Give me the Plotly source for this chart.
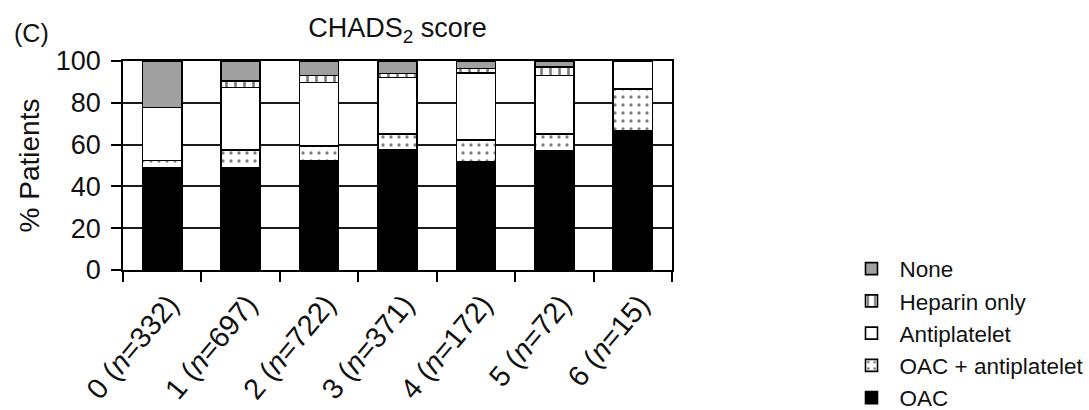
import plotly.graph_objects as go

# CHADS2 score groups (x tick labels)
categories = ["0 (<i>n</i>=332)", "1 (<i>n</i>=697)", "2 (<i>n</i>=722)", "3 (<i>n</i>=371)",
              "4 (<i>n</i>=172)", "5 (<i>n</i>=72)", "6 (<i>n</i>=15)"]

# % of patients per treatment within each score group
oac = [48.8, 48.9, 52.4, 57.7, 51.7, 56.9, 66.7]
oac_antiplatelet = [3.6, 8.6, 6.8, 7.5, 10.5, 8.3, 20.0]
antiplatelet = [25.3, 29.8, 30.5, 27.0, 32.0, 27.8, 13.3]
heparin_only = [0.0, 3.2, 3.3, 1.9, 2.3, 4.2, 0.0]
none = [22.3, 9.5, 7.1, 5.9, 3.5, 2.8, 0.0]

FONT = "Liberation Sans, Arial, Helvetica, sans-serif"
INK = "#111111"

series = [
    ("OAC", oac, dict(color="black")),
    ("OAC + antiplatelet", oac_antiplatelet,
     dict(color="white", pattern=dict(shape=".", fgcolor="black", bgcolor="white",
                                      size=8, solidity=0.13, fillmode="overlay"))),
    ("Antiplatelet", antiplatelet, dict(color="white")),
    ("Heparin only", heparin_only,
     dict(color="white", pattern=dict(shape="|", fgcolor="black", bgcolor="white",
                                      size=9, solidity=0.3, fillmode="overlay"))),
    ("None", none, dict(color="#a0a0a0")),
]

fig = go.Figure()
for name, vals, mk in series:
    mk = dict(mk)
    mk["line"] = dict(color="black", width=1.6)
    fig.add_trace(go.Bar(name=name, x=categories, y=vals, marker=mk))

fig.update_layout(
    barmode="stack",
    bargap=0.5,
    width=1089,
    height=410,
    margin=dict(l=123, r=417, t=61, b=140, autoexpand=False),
    paper_bgcolor="white",
    plot_bgcolor="white",
    font=dict(family=FONT, color=INK, size=24),
    title=dict(text="CHADS<sub>2</sub> score", x=0.5, xref="paper", xanchor="center",
               y=1 - 28 / 410, yref="container", yanchor="middle",
               font=dict(family=FONT, size=27, color=INK)),
    legend=dict(traceorder="reversed", xref="container", yref="container",
                x=843.5 / 1089, xanchor="left", y=1 - 247.5 / 410, yanchor="top",
                font=dict(family=FONT, size=22.5, color=INK), itemwidth=46,
                bgcolor="rgba(0,0,0,0)"),
    annotations=[dict(text="(C)", xref="paper", yref="paper", x=-0.203, y=1.1316,
                      xanchor="left", yanchor="middle", showarrow=False,
                      font=dict(family=FONT, size=25, color=INK))],
)

fig.update_xaxes(
    type="category", tickson="boundaries", ticks="outside", ticklen=10, tickwidth=1.6,
    tickcolor="black", showline=True, linecolor="black", linewidth=1.6, mirror=True,
    showgrid=False, tickangle=-50, automargin=False, ticklabelshift=7, ticklabelstandoff=4,
    tickfont=dict(family=FONT, size=29, color=INK),
)
fig.update_yaxes(
    range=[0, 100], tickvals=[0, 20, 40, 60, 80, 100], ticks="outside", ticklen=10,
    tickwidth=1.6, tickcolor="black", showline=True, linecolor="black", linewidth=1.6,
    mirror=True, showgrid=True, gridcolor="#1a1a1a", gridwidth=1.6, zeroline=False,
    automargin=False, ticklabelstandoff=5,
    tickfont=dict(family=FONT, size=27, color=INK),
    title=dict(text="% Patients", font=dict(family=FONT, size=28, color=INK), standoff=8),
)

fig.write_html("out.html")
